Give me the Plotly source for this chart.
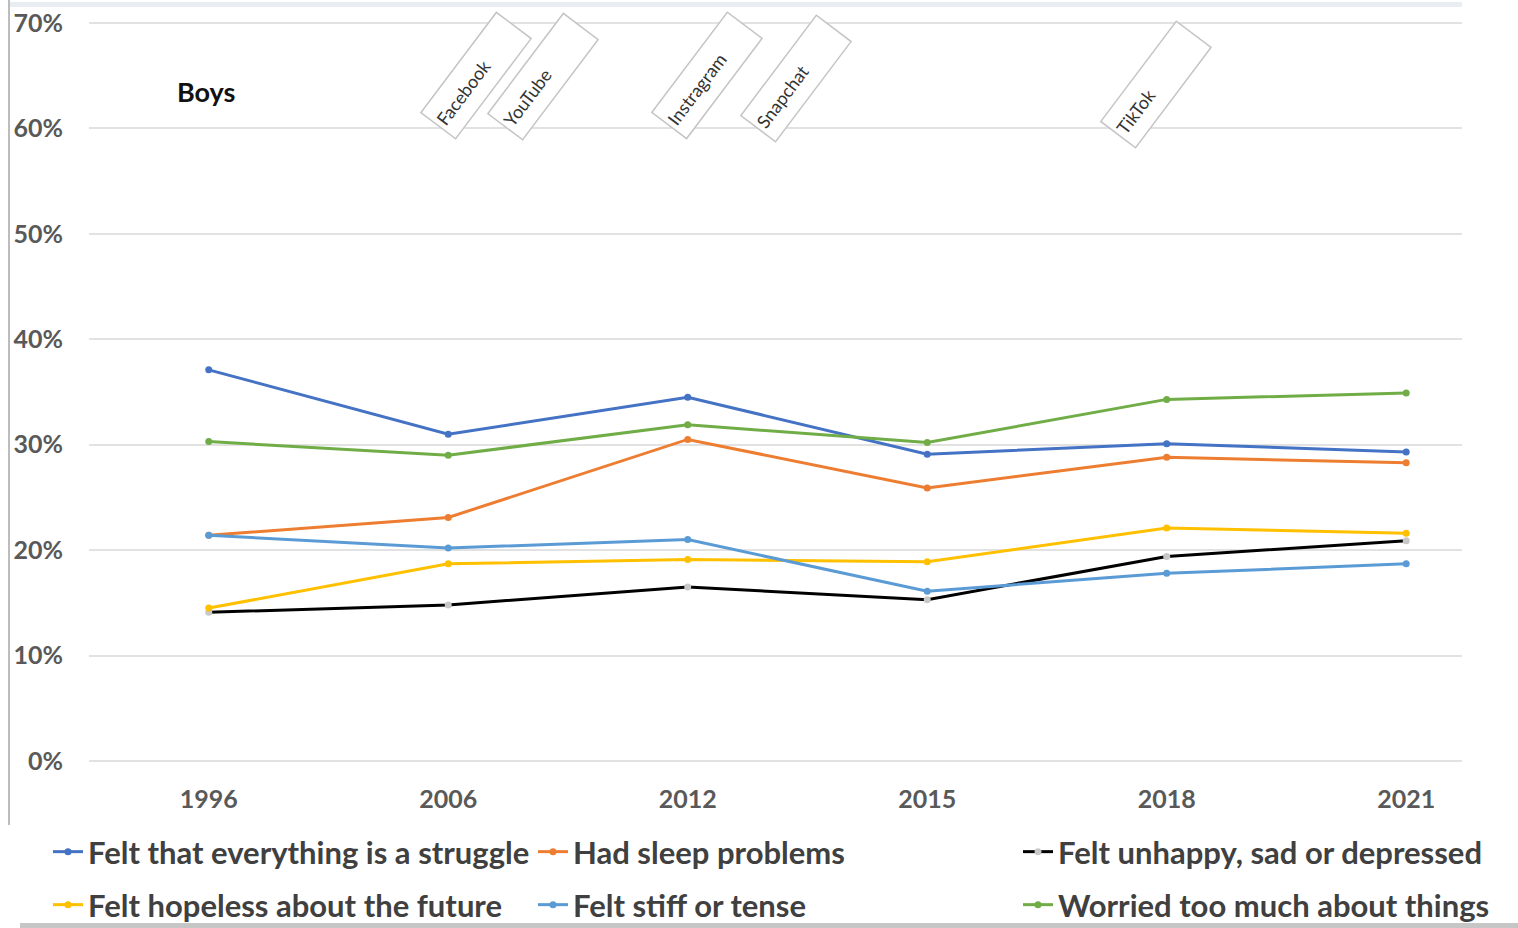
import plotly.graph_objects as go

# Survey years (x categories)
years = ["1996", "2006", "2012", "2015", "2018", "2021"]

# Share of boys reporting each symptom (%)
struggle = [37.1, 31.0, 34.5, 29.1, 30.1, 29.3]
sleep = [21.4, 23.1, 30.5, 25.9, 28.8, 28.3]
unhappy = [14.1, 14.8, 16.5, 15.3, 19.4, 20.9]
hopeless = [14.5, 18.7, 19.1, 18.9, 22.1, 21.6]
stiff = [21.4, 20.2, 21.0, 16.1, 17.8, 18.7]
worried = [30.3, 29.0, 31.9, 30.2, 34.3, 34.9]

series_names = [
    "Felt that everything is a struggle",
    "Had sleep problems",
    "Felt unhappy, sad or depressed",
    "Felt hopeless about the future",
    "Felt stiff or tense",
    "Worried too much about things",
]
series_values = [struggle, sleep, unhappy, hopeless, stiff, worried]
series_colors = ["#4472C4", "#ED7D31", "#000000", "#FFC000", "#5B9BD5", "#70AD47"]
marker_colors = ["#4472C4", "#ED7D31", "#C8C8C8", "#FFC000", "#5B9BD5", "#70AD47"]
legend_ids = ["legend", "legend", "legend", "legend2", "legend2", "legend2"]

# Y axis ticks
y_ticks = [0, 10, 20, 30, 40, 50, 60, 70]
y_tick_labels = ["0%", "10%", "20%", "30%", "40%", "50%", "60%", "70%"]

# Platform launch labels
platforms = ["Facebook", "YouTube", "Instragram", "Snapchat", "TikTok"]
platform_pos = [(1.115, 65.07), (1.395, 64.97), (2.079, 65.07), (2.451, 64.78), (3.954, 64.21)]

W, H = 1518, 928
FONT = "Lato"
TXT = "#404040"

fig = go.Figure()
for name, vals, col, mcol, lg in zip(series_names, series_values, series_colors,
                                     marker_colors, legend_ids):
    fig.add_trace(go.Scatter(
        x=years, y=vals, name=name, mode="lines+markers",
        line=dict(color=col, width=3),
        marker=dict(color=mcol, size=7, symbol="circle"),
        legend=lg,
    ))

annotations = [
    dict(x=-0.0125, y=63.5, xref="x", yref="y", text="<b>Boys</b>", showarrow=False,
         font=dict(family=FONT, size=27, color="#111111"), xanchor="center", yanchor="middle"),
]
for label, (px, py) in zip(platforms, platform_pos):
    annotations.append(dict(
        x=px, y=py, xref="x", yref="y", text=label, showarrow=False,
        textangle=-53, font=dict(family=FONT, size=18, color="#333333"),
        width=118, height=36, align="left", valign="middle",
        bordercolor="#c4c4c4", borderwidth=1.5, borderpad=3, bgcolor="#ffffff",
        xanchor="center", yanchor="middle",
    ))

shapes = [
    # thin frame line on the left edge
    dict(type="line", xref="paper", yref="paper", x0=9 / W, x1=9 / W,
         y0=(H - 825) / H, y1=1, line=dict(color="#7a7a7a", width=1)),
    # light band across the top
    dict(type="rect", xref="paper", yref="paper", x0=10 / W, x1=1462 / W,
         y0=(H - 7) / H, y1=(H - 2) / H, fillcolor="#e9edf1", line=dict(width=0), layer="below"),
    # grey band along the bottom
    dict(type="rect", xref="paper", yref="paper", x0=20 / W, x1=1,
         y0=0, y1=5 / H, fillcolor="#c6c6c6", line=dict(width=0)),
]

legend_common = dict(
    orientation="h", xanchor="left", yanchor="middle",
    bgcolor="rgba(0,0,0,0)", entrywidth=440, entrywidthmode="pixels",
    itemwidth=30, font=dict(family=FONT, size=31, color=TXT, weight="bold"),
    traceorder="normal",
)

fig.update_layout(
    width=W, height=H,
    margin=dict(l=0, r=0, t=0, b=0, autoexpand=False),
    paper_bgcolor="white", plot_bgcolor="white",
    font=dict(family=FONT, color=TXT),
    xaxis=dict(
        domain=[89 / W, 1462 / W], type="category", range=[-0.5, 5.233],
        showgrid=False, zeroline=False, showline=False, ticks="",
        ticklabelstandoff=10,
        tickfont=dict(family=FONT, size=25, color="#595959", weight="bold"),
    ),
    yaxis=dict(
        domain=[(H - 771.5) / H, (H - 12.5) / H], range=[-1, 71],
        tickvals=y_ticks, ticktext=y_tick_labels,
        showgrid=True, gridcolor="#e2e2e2", gridwidth=2,
        zeroline=False, showline=False, ticks="", ticklabelstandoff=25,
        tickfont=dict(family=FONT, size=25, color="#595959", weight="bold"),
    ),
    legend=dict(x=48 / W, y=1 - 852 / H, **legend_common),
    legend2=dict(x=48 / W, y=1 - 905 / H, **legend_common),
    annotations=annotations,
    shapes=shapes,
    showlegend=True,
)

fig.write_html("out.html")
